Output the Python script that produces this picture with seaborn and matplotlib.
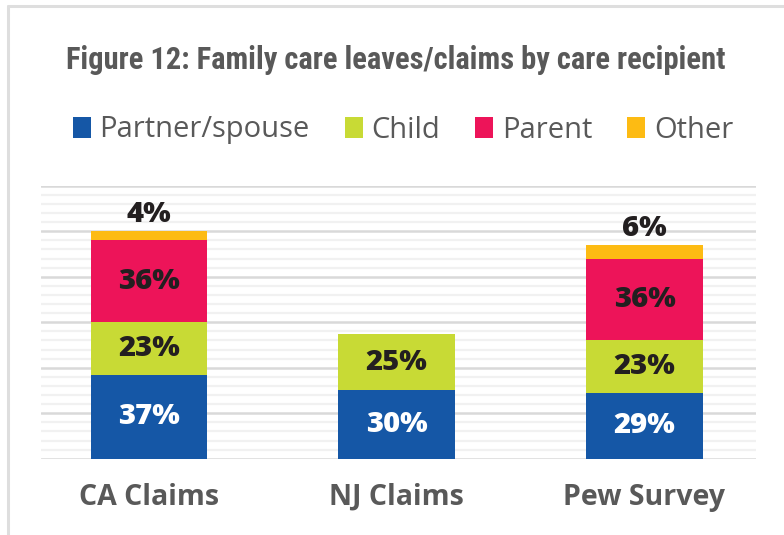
import matplotlib
matplotlib.use("Agg")
import matplotlib.pyplot as plt
from matplotlib.patches import Patch
from matplotlib.lines import Line2D
import seaborn as sns
import numpy as np
import pandas as pd

# data
sources = ["CA Claims", "NJ Claims", "Pew Survey"]
partner = [37, 30, 29]
child = [23, 25, 23]
parent = [36, 0, 36]
other = [4, 0, 6]

series_names = ["Partner/spouse", "Child", "Parent", "Other"]
colors = ["#1557a6", "#c8da35", "#ed1459", "#fdbb13"]
label_colors = ["white", "#231f20", "#231f20", "#231f20"]

sns.set_style("white")
plt.rcParams["font.family"] = ["Open Sans", "DejaVu Sans"]

fig = plt.figure(figsize=(7.84, 5.35), dpi=100)
ax = fig.add_axes([41 / 784, 76.3 / 535, 715 / 784, 273 / 535])

values = [partner, child, parent, other]
bottom = np.zeros(len(sources))
for name, vals, col, lc in zip(series_names, values, colors, label_colors):
    df = pd.DataFrame({"source": sources, "pct": vals})
    sns.barplot(data=df, x="source", y="pct", color=col, width=0.47,
                errorbar=None, bottom=bottom.copy(), ax=ax, zorder=3,
                linewidth=0, saturation=1)
    for i, v in enumerate(vals):
        if v == 0:
            continue
        if name == "Other":
            ax.annotate(f"{v}%", (i, bottom[i] + v), xytext=(0, 12),
                        textcoords="offset points", ha="center", va="center",
                        fontsize=21, fontweight="heavy", color=lc)
        else:
            ax.text(i, bottom[i] + v / 2, f"{v}%", ha="center", va="center",
                    fontsize=21, fontweight="heavy", color=lc, zorder=4)
    bottom = bottom + np.array(vals)

ax.set_ylim(0, 120)
ax.set_xlim(-0.435, 2.45)
ax.set_yticks(np.arange(0, 121, 20))
ax.set_yticks(np.arange(0, 121, 4), minor=True)
ax.grid(axis="y", which="major", color="#d9d9d9", linewidth=1.8, zorder=0)
ax.grid(axis="y", which="minor", color="#f1f1f1", linewidth=1.6, zorder=0)
ax.set_axisbelow(True)
ax.tick_params(axis="y", left=False, labelleft=False, which="both")
ax.tick_params(axis="x", bottom=False, pad=14, labelsize=20.5,
               labelcolor="#595959")
for lbl in ax.get_xticklabels():
    lbl.set_fontweight("bold")
ax.set_xlabel("")
ax.set_ylabel("")
for s in ax.spines.values():
    s.set_visible(False)

fig.text(396 / 784, 1 - 60 / 535,
         "Figure 12: Family care leaves/claims by care recipient",
         ha="center", va="center", fontsize=22, fontweight="bold",
         color="#595959", family=["Roboto Condensed", "Roboto", "Open Sans"])

handles = [Patch(facecolor=c, edgecolor="none") for c in colors]
fig.legend(handles, series_names, loc="center", ncol=4, frameon=False,
           bbox_to_anchor=(403 / 784, 1 - 130 / 535), fontsize=21,
           handlelength=0.62, handleheight=0.7, handletextpad=0.3,
           columnspacing=1.2, labelcolor="#595959")

# page frame lines
fig.add_artist(Line2D([7.5 / 784, 1], [1 - 5.5 / 535, 1 - 5.5 / 535],
                      color="#dedede", linewidth=2.2))
fig.add_artist(Line2D([7.5 / 784, 7.5 / 784], [0, 1 - 5.5 / 535],
                      color="#dedede", linewidth=2.2))

fig.savefig("out.png", dpi=100)
